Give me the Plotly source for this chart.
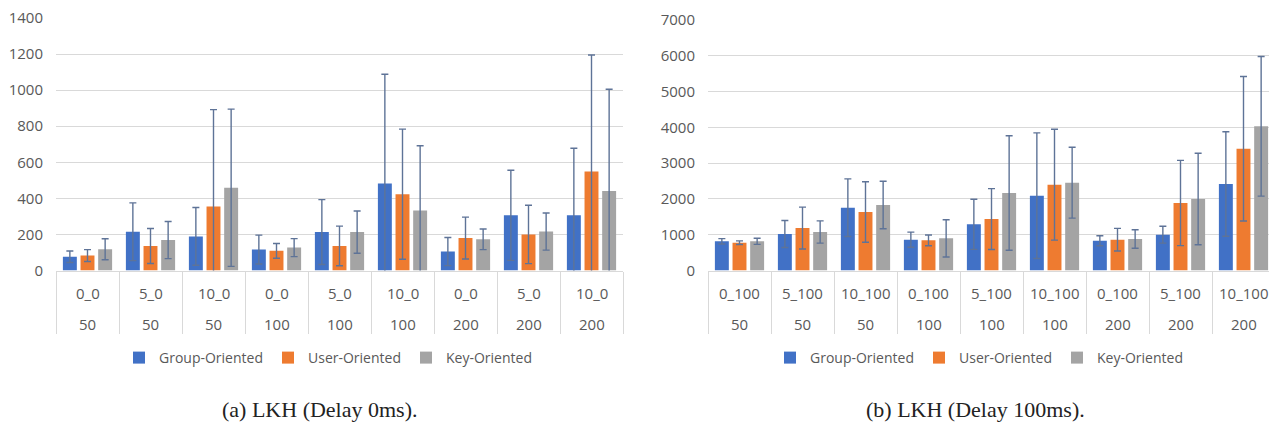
import plotly.graph_objects as go

# ---- data ----
sizes = ["50", "50", "50", "100", "100", "100", "200", "200", "200"]
params_a = ["0_0", "5_0", "10_0", "0_0", "5_0", "10_0", "0_0", "5_0", "10_0"]
params_b = ["0_100", "5_100", "10_100", "0_100", "5_100", "10_100", "0_100", "5_100", "10_100"]

series_names = ["Group-Oriented", "User-Oriented", "Key-Oriented"]

# (a) LKH, delay 0 ms
a_group = [76, 215, 189, 116, 213, 483, 105, 306, 306]
a_group_err = [32, 160, 160, 80, 180, 605, 78, 250, 372]
a_user = [83, 136, 355, 109, 136, 423, 180, 200, 549]
a_user_err = [33, 97, 537, 41, 110, 361, 116, 162, 646]
a_key = [118, 169, 459, 127, 213, 332, 173, 216, 441]
a_key_err = [58, 103, 436, 50, 117, 360, 57, 103, 564]

# (b) LKH, delay 100 ms
b_group = [816, 1020, 1755, 861, 1290, 2091, 833, 1000, 2417]
b_group_err = [75, 378, 805, 210, 700, 1755, 140, 235, 1460]
b_user = [777, 1187, 1635, 843, 1438, 2398, 861, 1886, 3403]
b_user_err = [50, 585, 845, 150, 850, 1550, 317, 1190, 2020]
b_key = [816, 1076, 1830, 898, 2165, 2454, 880, 1998, 4029]
b_key_err = [85, 310, 665, 520, 1600, 990, 260, 1280, 1950]

captions = ["(a) LKH (Delay 0ms).", "(b) LKH (Delay 100ms)."]

# ---- style ----
colors = ["#4171C6", "#EE7B30", "#A4A4A4"]
err_color = "#5E7397"
grid_color = "#D9D9D9"
text_color = "#595959"
font_family = "Open Sans"

# the page body adds an 8px offset; lay out in window pixels and compensate
OFF = 8
W, H = 1277 - OFF, 429 - OFF
fig = go.Figure()

panels = [
    dict(params=params_a, vals=[a_group, a_user, a_key], errs=[a_group_err, a_user_err, a_key_err],
         xa="x", ya="y", legend="legend"),
    dict(params=params_b, vals=[b_group, b_user, b_key], errs=[b_group_err, b_user_err, b_key_err],
         xa="x2", ya="y2", legend="legend2"),
]

for pi, p in enumerate(panels):
    keys = [f"{a}|{s}" for a, s in zip(p["params"], sizes)]
    p["keys"] = keys
    for si, name in enumerate(series_names):
        fig.add_trace(go.Bar(
            x=keys, y=p["vals"][si], name=name,
            marker=dict(color=colors[si], line=dict(width=0)),
            error_y=dict(type="data", array=p["errs"][si], visible=True,
                         color=err_color, thickness=1.4, width=3.5),
            xaxis=p["xa"], yaxis=p["ya"], legend=p["legend"],
        ))

def px_x(v):
    return (v - OFF) / W

def px_y(v):
    return (H - (v - OFF)) / H

xaxis_common = dict(
    type="category", range=[-0.5, 8.5], showgrid=False, showline=True, linecolor=grid_color,
    linewidth=1, ticks="outside", tickson="boundaries", ticklen=62, tickcolor=grid_color,
    tickwidth=1, showticklabels=False, fixedrange=True, automargin=False,
)
yaxis_common = dict(
    showgrid=True, gridcolor=grid_color, gridwidth=1, zeroline=False, showline=False,
    tickfont=dict(family=font_family, size=15, color=text_color), ticklabelstandoff=12,
    ticklabeloverflow="allow", fixedrange=True, automargin=False,
)

fig.update_layout(
    width=W, height=H,
    margin=dict(l=0, r=0, t=0, b=0, autoexpand=False),
    paper_bgcolor="white", plot_bgcolor="white",
    barmode="group", bargap=0.16, bargroupgap=0.21,
    font=dict(family=font_family, color=text_color),
    xaxis=dict(domain=[px_x(56), px_x(623)], anchor="y", **xaxis_common),
    yaxis=dict(domain=[px_y(270.5), px_y(18)], anchor="x", range=[0, 1400], dtick=200, **yaxis_common),
    xaxis2=dict(domain=[px_x(708), px_x(1275)], anchor="y2", **xaxis_common),
    yaxis2=dict(domain=[px_y(270.5), px_y(20)], anchor="x2", range=[0, 7000], dtick=1000, **yaxis_common),
    legend=dict(orientation="h", x=px_x(328), xanchor="center", y=px_y(358), yanchor="middle",
                font=dict(family=font_family, size=14, color=text_color),
                itemwidth=30, tracegroupgap=0, bgcolor="rgba(0,0,0,0)"),
    legend2=dict(orientation="h", x=px_x(979), xanchor="center", y=px_y(358), yanchor="middle",
                 font=dict(family=font_family, size=14, color=text_color),
                 itemwidth=30, tracegroupgap=0, bgcolor="rgba(0,0,0,0)"),
)

annotations = []
for pi, p in enumerate(panels):
    xref = p["xa"]
    yref = p["ya"] + " domain"
    for key, a, s in zip(p["keys"], p["params"], sizes):
        annotations.append(dict(x=key, y=0, xref=xref, yref=yref, text=a, showarrow=False,
                                yshift=-22, yanchor="middle",
                                font=dict(family=font_family, size=15, color=text_color)))
        annotations.append(dict(x=key, y=0, xref=xref, yref=yref, text=s, showarrow=False,
                                yshift=-53, yanchor="middle",
                                font=dict(family=font_family, size=15, color=text_color)))

cap_x = [320, 975]
for cx, cap in zip(cap_x, captions):
    annotations.append(dict(x=px_x(cx), y=px_y(409), xref="paper", yref="paper", text=cap,
                            showarrow=False, xanchor="center", yanchor="middle",
                            font=dict(family="Liberation Serif", size=22, color="#222222")))

fig.update_layout(annotations=annotations)

fig.write_html("out.html")
